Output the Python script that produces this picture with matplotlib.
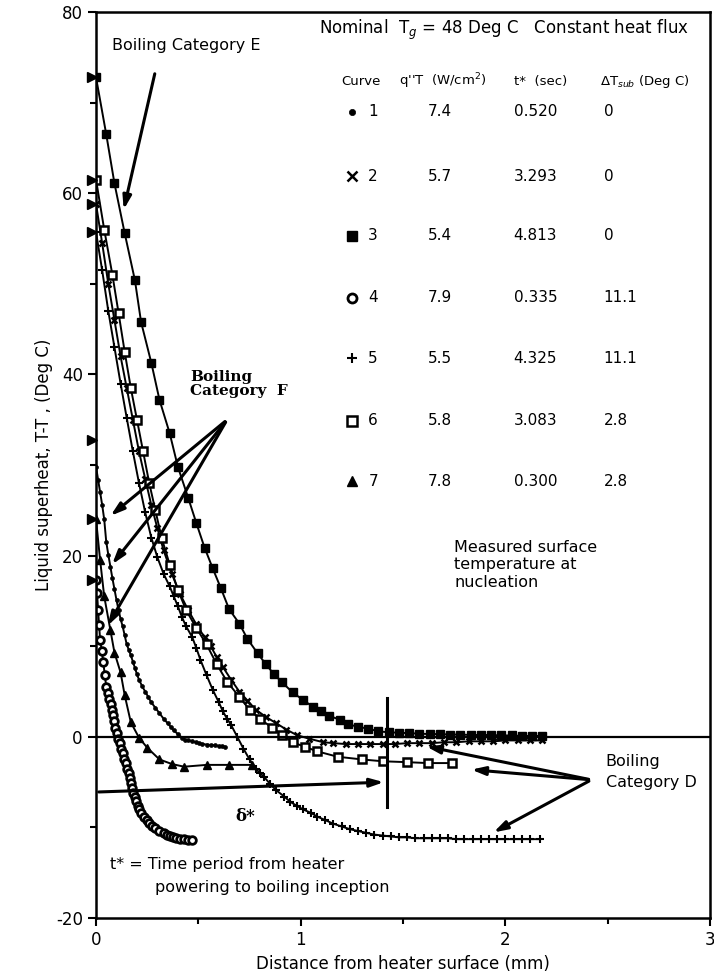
import matplotlib
matplotlib.use("Agg")
import matplotlib.pyplot as plt

plt.rcParams['font.family'] = ['DejaVu Sans']
plt.rcParams['axes.unicode_minus'] = False

# curve data (x: mm, y: deg C)
c1_x = [0, 0.01, 0.02, 0.03, 0.04, 0.05, 0.06, 0.07, 0.08, 0.09, 0.10, 0.11, 0.12, 0.13,
        0.14, 0.15, 0.16, 0.17, 0.18, 0.19, 0.20, 0.21, 0.225, 0.24, 0.255, 0.27, 0.29,
        0.31, 0.33, 0.35, 0.365, 0.38, 0.40, 0.42, 0.435, 0.45, 0.47, 0.49, 0.505, 0.52,
        0.54, 0.56, 0.58, 0.60, 0.615, 0.63]
c1_y = [29.8, 28.4, 27.0, 25.6, 24.0, 21.5, 20.1, 18.8, 17.5, 16.3, 15.1, 14.0, 13.0, 12.2,
        11.2, 10.2, 9.6, 9.0, 8.3, 7.6, 6.9, 6.3, 5.6, 5.0, 4.4, 3.8, 3.2, 2.6, 2.0, 1.5, 1.1,
        0.7, 0.3, -0.1, -0.3, -0.4, -0.5, -0.6, -0.7, -0.8, -0.85, -0.9, -0.95, -1.0, -1.05, -1.1]

c2_x = [0, 0.03, 0.06, 0.09, 0.12, 0.15, 0.18, 0.21, 0.24, 0.27, 0.30, 0.33, 0.37, 0.41,
        0.45, 0.49, 0.53, 0.56, 0.59, 0.62, 0.66, 0.70, 0.74, 0.78, 0.83, 0.88, 0.93, 0.98,
        1.04, 1.11, 1.16, 1.22, 1.28, 1.34, 1.40, 1.46, 1.52, 1.58, 1.64, 1.70, 1.76, 1.82,
        1.88, 1.94, 2.00, 2.06, 2.12, 2.18]
c2_y = [58.8, 54.5, 50.0, 46.0, 42.0, 38.5, 35.0, 31.5, 28.5, 25.6, 23.0, 20.6, 18.0, 15.8,
        14.0, 12.4, 11.0, 10.0, 8.8, 7.7, 6.3, 5.0, 4.0, 3.0, 2.2, 1.5, 0.8, 0.2, -0.2, -0.6,
        -0.7, -0.8, -0.8, -0.8, -0.8, -0.8, -0.7, -0.7, -0.7, -0.6, -0.6, -0.5, -0.5, -0.5,
        -0.4, -0.4, -0.4, -0.4]

c3_x = [0, 0.05, 0.09, 0.14, 0.19, 0.22, 0.27, 0.31, 0.36, 0.40, 0.45, 0.49, 0.53, 0.57,
        0.61, 0.65, 0.70, 0.74, 0.79, 0.83, 0.87, 0.91, 0.96, 1.01, 1.06, 1.10, 1.14, 1.19,
        1.23, 1.28, 1.33, 1.38, 1.43, 1.48, 1.53, 1.58, 1.63, 1.68, 1.73, 1.78, 1.83, 1.88,
        1.93, 1.98, 2.03, 2.08, 2.13, 2.18]
c3_y = [72.8, 66.5, 61.1, 55.6, 50.4, 45.8, 41.3, 37.2, 33.5, 29.8, 26.4, 23.6, 20.9, 18.6,
        16.4, 14.1, 12.5, 10.8, 9.2, 8.0, 6.9, 6.0, 4.9, 4.1, 3.3, 2.8, 2.3, 1.9, 1.4, 1.1,
        0.9, 0.6, 0.5, 0.45, 0.4, 0.35, 0.3, 0.3, 0.25, 0.25, 0.2, 0.2, 0.2, 0.15, 0.15, 0.1,
        0.1, 0.1]

c4_x = [0, 0.005, 0.01, 0.015, 0.02, 0.028, 0.035, 0.043, 0.05, 0.058, 0.065, 0.073, 0.08,
        0.085, 0.09, 0.095, 0.10, 0.108, 0.115, 0.123, 0.13, 0.138, 0.145, 0.153, 0.16,
        0.165, 0.17, 0.175, 0.18, 0.188, 0.195, 0.203, 0.21, 0.222, 0.235, 0.248, 0.26,
        0.275, 0.29, 0.31, 0.33, 0.345, 0.36, 0.375, 0.39, 0.41, 0.43, 0.45, 0.47]
c4_y = [17.3, 15.9, 14.0, 12.3, 10.7, 9.5, 8.3, 6.8, 5.5, 4.8, 4.2, 3.6, 3.0, 2.4, 1.7, 1.0,
        0.4, -0.2, -0.7, -1.3, -1.8, -2.4, -2.9, -3.5, -4.0, -4.6, -5.1, -5.7, -6.2, -6.7,
        -7.1, -7.6, -8.0, -8.4, -8.8, -9.2, -9.5, -9.8, -10.1, -10.4, -10.6, -10.8, -10.9,
        -11.1, -11.2, -11.25, -11.3, -11.35, -11.4]

c5_x = [0, 0.03, 0.06, 0.09, 0.12, 0.15, 0.18, 0.21, 0.24, 0.27, 0.30, 0.33, 0.36, 0.38,
        0.40, 0.42, 0.44, 0.47, 0.49, 0.51, 0.54, 0.57, 0.60, 0.62, 0.64, 0.66, 0.69, 0.72,
        0.75, 0.78, 0.80, 0.82, 0.85, 0.88, 0.92, 0.95, 0.98, 1.01, 1.05, 1.08, 1.12, 1.16,
        1.20, 1.24, 1.28, 1.32, 1.36, 1.40, 1.44, 1.48, 1.52, 1.56, 1.60, 1.64, 1.68, 1.72,
        1.76, 1.80, 1.84, 1.88, 1.92, 1.96, 2.00, 2.04, 2.08, 2.12, 2.17]
c5_y = [55.7, 51.5, 47.0, 43.0, 39.0, 35.2, 31.5, 28.0, 24.8, 22.0, 19.8, 18.0, 16.6, 15.5,
        14.4, 13.2, 12.2, 11.0, 9.8, 8.5, 6.8, 5.2, 3.8, 2.8, 2.0, 1.3, 0.0, -1.3, -2.5,
        -3.5, -4.0, -4.4, -5.2, -5.9, -6.6, -7.2, -7.6, -8.0, -8.4, -8.8, -9.2, -9.6, -9.9,
        -10.2, -10.4, -10.6, -10.8, -10.9, -11.0, -11.1, -11.1, -11.2, -11.2, -11.2, -11.2,
        -11.2, -11.3, -11.3, -11.3, -11.3, -11.3, -11.3, -11.3, -11.3, -11.3, -11.3, -11.3]

c6_x = [0, 0.04, 0.08, 0.11, 0.14, 0.17, 0.20, 0.23, 0.26, 0.29, 0.32, 0.36, 0.40, 0.44,
        0.49, 0.54, 0.59, 0.64, 0.70, 0.75, 0.80, 0.86, 0.91, 0.96, 1.02, 1.08, 1.18, 1.30,
        1.40, 1.52, 1.62, 1.74]
c6_y = [61.5, 56.0, 51.0, 46.8, 42.5, 38.5, 35.0, 31.5, 28.0, 25.0, 22.0, 19.0, 16.2, 14.0,
        12.0, 10.2, 8.0, 6.1, 4.4, 3.0, 2.0, 1.0, 0.2, -0.6, -1.1, -1.6, -2.2, -2.5, -2.7,
        -2.8, -2.9, -2.9]

c7_x = [0, 0.02, 0.04, 0.07, 0.09, 0.12, 0.14, 0.17, 0.21, 0.25, 0.31, 0.37, 0.43, 0.54,
        0.65, 0.76]
c7_y = [24.0, 19.5, 15.5, 11.8, 9.3, 7.1, 4.6, 1.6, -0.1, -1.2, -2.5, -3.0, -3.3, -3.1,
        -3.1, -3.1]

# measured surface temperature at nucleation (marks on the y axis)
nucl_y = [72.8, 61.5, 58.8, 55.7, 32.8, 24.0, 17.3]

curve_ids = ['1', '2', '3', '4', '5', '6', '7']
q_flux = ['7.4', '5.7', '5.4', '7.9', '5.5', '5.8', '7.8']
t_star = ['0.520', '3.293', '4.813', '0.335', '4.325', '3.083', '0.300']
dt_sub = ['0', '0', '0', '11.1', '11.1', '2.8', '2.8']

styles = [
    dict(marker='o', ms=2.8, mfc='k', mec='k', mew=0.5),
    dict(marker='x', ms=5, mec='k', mew=1.8),
    dict(marker='s', ms=5.5, mfc='k', mec='k'),
    dict(marker='o', ms=5.5, mfc='white', mec='k', mew=2.0),
    dict(marker='+', ms=6, mec='k', mew=1.5),
    dict(marker='s', ms=5.5, mfc='white', mec='k', mew=1.8),
    dict(marker='^', ms=5.5, mfc='k', mec='k'),
]
curves = [(c1_x, c1_y), (c2_x, c2_y), (c3_x, c3_y), (c4_x, c4_y),
          (c5_x, c5_y), (c6_x, c6_y), (c7_x, c7_y)]

fig = plt.figure(figsize=(7.14, 9.75), dpi=100)
ax = fig.add_axes([0.1345, 0.0585, 0.86, 0.929])

for (xs, ys), st in zip(curves, styles):
    ax.plot(xs, ys, color='k', lw=1.4, **st)

ax.plot([-0.02] * len(nucl_y), nucl_y, ls='none', marker='>', ms=7, color='k', clip_on=False)

ax.axhline(0, color='k', lw=1.6)
ax.plot([1.42, 1.42], [4.3, -7.8], color='k', lw=2.2)

ax.set_xlim(0, 3)
ax.set_ylim(-20, 80)
ax.set_xticks([0, 1, 2, 3])
ax.set_xticks([0.5, 1.5, 2.5], minor=True)
ax.set_yticks([-20, 0, 20, 40, 60, 80])
ax.set_yticks([-10, 10, 30, 50, 70], minor=True)
ax.tick_params(which='major', length=6, width=1.5, labelsize=12)
ax.tick_params(which='minor', length=4, width=1.5)
for sp in ax.spines.values():
    sp.set_linewidth(1.8)
ax.set_xlabel('Distance from heater surface (mm)', fontsize=12)
ax.set_ylabel('Liquid superheat, T-T , (Deg C)', fontsize=12, labelpad=2)

arr = dict(arrowstyle='-|>,head_length=0.8,head_width=0.25', color='k', lw=2.2)

# category E
ax.text(0.08, 76.3, 'Boiling Category E', fontsize=11.5, va='center')
ax.annotate('', xy=(0.132, 57.9), xytext=(0.29, 73.5), arrowprops=arr)

# category F
ax.text(0.46, 38.9, 'Boiling\nCategory  F', family='DejaVu Serif', fontweight='bold',
        fontsize=11, va='center', linespacing=1.0)
for tip in [(0.06, 24.2), (0.07, 18.8), (0.05, 12.0)]:
    ax.annotate('', xy=tip, xytext=(0.64, 35.0), arrowprops=arr)

# category D
ax.text(2.49, -3.9, 'Boiling\nCategory D', fontsize=11.5, va='center', linespacing=1.5)
for tip in [(1.6, -1.0), (1.82, -3.6), (1.93, -10.7)]:
    ax.annotate('', xy=tip, xytext=(2.42, -4.75), arrowprops=arr)

# delta* arrow
ax.annotate('', xy=(1.42, -5.0), xytext=(0.0, -6.1), arrowprops=arr)
ax.text(0.73, -8.8, 'δ*', family='DejaVu Serif', fontweight='bold', fontsize=12,
        ha='center', va='center')

ax.text(1.75, 19.0, 'Measured surface\ntemperature at\nnucleation', fontsize=11.5,
        va='center', linespacing=1.2)
ax.text(0.07, -14.1, 't* = Time period from heater', fontsize=11.5, va='center')
ax.text(0.29, -16.6, 'powering to boiling inception', fontsize=11.5, va='center')

# table of conditions
ax.text(1.09, 78.0, 'Nominal  T$_g$ = 48 Deg C   Constant heat flux', fontsize=12,
        va='center')
hy = 72.4
ax.text(1.20, hy, 'Curve', fontsize=9.5, va='center')
ax.text(1.48, hy, "q''T  (W/cm$^2$)", fontsize=9.5, va='center')
ax.text(2.04, hy, 't*  (sec)', fontsize=9.5, va='center')
ax.text(2.46, hy, 'ΔT$_{sub}$ (Deg C)', fontsize=9.5, va='center')
row_y = [69.0, 61.9, 55.3, 48.5, 41.8, 34.9, 28.2]
for i in range(7):
    st = dict(styles[i])
    st['ms'] = 6.5 if i > 0 else 4.5
    ax.plot([1.25], [row_y[i]], ls='none', color='k', **st)
    ax.text(1.33, row_y[i], curve_ids[i], fontsize=11, va='center')
    ax.text(1.62, row_y[i], q_flux[i], fontsize=11, va='center')
    ax.text(2.04, row_y[i], t_star[i], fontsize=11, va='center')
    ax.text(2.48, row_y[i], dt_sub[i], fontsize=11, va='center')

fig.savefig('out.png', dpi=100)
